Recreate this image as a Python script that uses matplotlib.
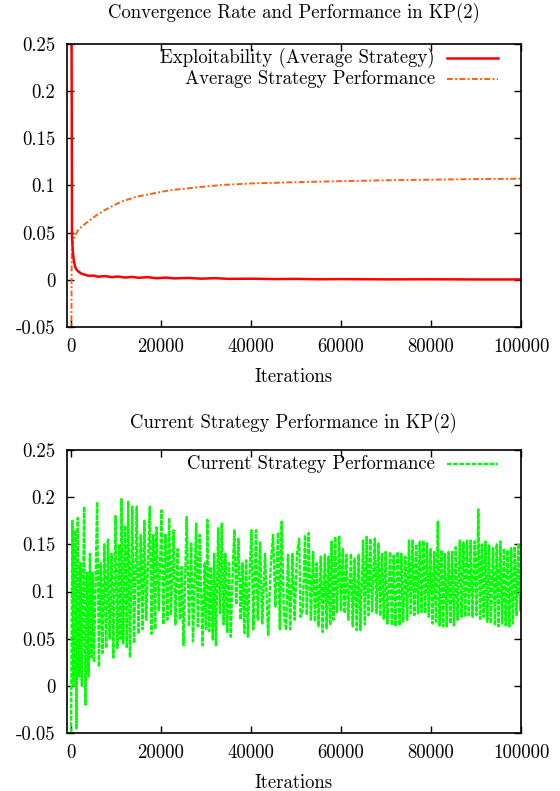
import numpy as np
import matplotlib
matplotlib.use('Agg')
import matplotlib.pyplot as plt

# ---------------------------------------------------------------------------
# estilo (gnuplot + LaTeX)
# ---------------------------------------------------------------------------
plt.rcParams['font.family'] = 'cmr10'
plt.rcParams['axes.formatter.use_mathtext'] = True
plt.rcParams['axes.unicode_minus'] = False
FS = 13.5

RED = '#ff0000'
ORANGE = '#ff6010'
GREEN = '#00ff00'

# ---------------------------------------------------------------------------
# datos
# ---------------------------------------------------------------------------
title_top = 'Convergence Rate and Performance in KP(2)'
title_bottom = 'Current Strategy Performance in KP(2)'
xlabel = 'Iterations'
label_exploit = 'Exploitability (Average Strategy)'
label_avg = 'Average Strategy Performance'
label_cur = 'Current Strategy Performance'

xticks = [0, 20000, 40000, 60000, 80000, 100000]
xtick_labels = ['0', '20000', '40000', '60000', '80000', '100000']
yticks = [-0.05, 0, 0.05, 0.1, 0.15, 0.2, 0.25]
ytick_labels = ['-0.05', '0', '0.05', '0.1', '0.15', '0.2', '0.25']

exploit_iters = [1, 100, 220, 400, 600, 890, 1260, 1700, 2370, 3000, 3850,
                 5000, 6000, 7550, 9000, 10500, 12000, 13500, 14950, 17000,
                 19000, 21000, 23000, 26000, 29000, 32000, 35000, 40150,
                 45000, 50000, 55000, 60000, 70000, 80000, 90000, 100000]
exploit_vals = [0.60, 0.30, 0.045, 0.030, 0.021, 0.014, 0.0106, 0.0085,
                0.0064, 0.0055, 0.0043, 0.0045, 0.0033, 0.0040, 0.0028,
                0.0035, 0.0024, 0.0031, 0.0022, 0.0028, 0.0017, 0.0024,
                0.0015, 0.0020, 0.0012, 0.0018, 0.0010, 0.0012, 0.0008,
                0.0010, 0.0006, 0.0008, 0.0005, 0.0006, 0.0004, 0.0004]

avg_iters = [1, 60, 120, 220, 520, 1000, 1630, 2500, 3850, 5500, 7550,
             9500, 11260, 14500, 18700, 22000, 26100, 30000, 33500, 40150,
             50000, 60000, 70000, 80000, 90000, 100000]
avg_vals = [-0.40, -0.10, 0.010, 0.035, 0.043, 0.048, 0.053, 0.057, 0.062,
            0.068, 0.074, 0.079, 0.083, 0.088, 0.092, 0.095, 0.097, 0.099,
            0.1005, 0.1022, 0.1035, 0.1046, 0.1055, 0.1062, 0.1068, 0.1072]

cur_iters = [
    0, 300, 600, 900, 1200, 1500, 1800, 2100, 2400, 2900, 3200, 3600, 3900,
    4200, 4500, 4800, 5100, 5800, 6200, 6600, 7000, 7400, 7800, 8200, 8600,
    9000, 9400, 9900, 10300, 10700, 11000, 11200, 11600, 12000, 12400,
    12700, 13100, 13600, 14000, 14600, 15000, 15500, 15900, 16300, 16700,
    17500, 17900, 18300, 18700, 19000, 19500, 20100, 20500, 21000, 21400,
    21800, 22200, 22800, 23200, 23700, 24200,
    24600, 25000, 25700, 26200, 26700, 27100, 27800, 28200, 28600, 29200,
    29700, 30000, 30300, 30700, 31100, 31500, 31800, 32200, 32700, 33100,
    33500, 33900, 34300, 34700, 35100, 35500, 35900, 36300, 36700, 37200,
    37700, 38100, 38500, 38900, 39300, 39700, 40100, 40500, 41100, 41500,
    42000, 42500, 43100, 43800, 44400, 44900, 45400, 46000, 46400, 46800,
    47300, 47800, 48200, 48700, 49200, 49700, 50200, 50700, 51000,
    51500, 52000, 52400, 52800, 53300, 53800, 54200, 54600, 55000, 55500,
    55900, 56400, 56800, 57200, 57600, 57900, 58300, 58700, 59100, 59600,
    60000, 60400, 60800, 61200, 61600, 62200, 62600, 63000, 63500, 63900,
    64300, 64900, 65300, 65700, 66100, 66500, 66900, 67500, 67900, 68300,
    68700, 69100, 69500, 69900, 70300, 70900, 71300, 71700, 72100, 72600,
    73000, 73400, 73800, 74300, 74700,
    75100, 75500, 75900, 76300, 76700, 77100, 77500, 77900, 78300, 78700,
    79100, 79500, 79900, 80300, 80700, 81100, 81500, 81900, 82300, 82700,
    83100, 83500, 83900, 84300, 84700, 85100, 85500, 85900, 86400, 86800,
    87200, 87600, 88000, 88400, 88800, 89200, 89700, 90100, 90500, 90900,
    91300, 91700, 92100, 92500, 92900, 93300, 93800, 94200, 94600, 95000,
    95400, 95800, 96200, 96600, 97000, 97400, 97800, 98200, 98600, 99000,
    99400, 99800, 100000]
cur_vals = [
    -0.050, 0.175, 0.000, 0.165, -0.045, 0.178, 0.010, 0.130, 0.000, 0.190,
    -0.020, 0.120, 0.010, 0.140, 0.030, 0.120, 0.025, 0.195, 0.020, 0.130,
    0.035, 0.150, 0.040, 0.155, 0.050, 0.140, 0.030, 0.180, 0.040, 0.150,
    0.050, 0.198, 0.045, 0.170, 0.040, 0.195, 0.030, 0.190, 0.045, 0.190,
    0.055, 0.160, 0.060, 0.175, 0.070, 0.190, 0.055, 0.160, 0.060, 0.168,
    0.080, 0.186, 0.065, 0.160, 0.070, 0.178, 0.075, 0.165, 0.065, 0.145,
    0.070,
    0.126, 0.043, 0.179, 0.063, 0.151, 0.047, 0.172, 0.063, 0.160, 0.043,
    0.130, 0.060, 0.176, 0.058, 0.126, 0.049, 0.140, 0.043, 0.167, 0.077,
    0.172, 0.065, 0.140, 0.056, 0.130, 0.052, 0.120, 0.165, 0.086, 0.156,
    0.070, 0.130, 0.056, 0.133, 0.052, 0.120, 0.165, 0.060, 0.165, 0.070,
    0.153, 0.066, 0.140, 0.054, 0.130, 0.160, 0.084, 0.163, 0.060, 0.174,
    0.075, 0.059, 0.139, 0.060, 0.140, 0.070, 0.140, 0.156, 0.073,
    0.080, 0.160, 0.075, 0.162, 0.070, 0.142, 0.068, 0.130, 0.063, 0.137,
    0.057, 0.139, 0.061, 0.137, 0.064, 0.153, 0.070, 0.158, 0.078, 0.158,
    0.080, 0.145, 0.077, 0.139, 0.070, 0.140, 0.063, 0.135, 0.059, 0.139,
    0.059, 0.154, 0.065, 0.158, 0.075, 0.156, 0.079, 0.156, 0.077, 0.151,
    0.074, 0.140, 0.071, 0.142, 0.066, 0.142, 0.064, 0.138, 0.063, 0.142,
    0.064, 0.140, 0.068, 0.137, 0.070,
    0.154, 0.077, 0.154, 0.075, 0.150, 0.077, 0.153, 0.078, 0.154, 0.077,
    0.151, 0.073, 0.145, 0.066, 0.142, 0.068, 0.174, 0.064, 0.144, 0.063,
    0.140, 0.063, 0.142, 0.066, 0.142, 0.064, 0.147, 0.070, 0.154, 0.073,
    0.152, 0.073, 0.154, 0.075, 0.154, 0.073, 0.153, 0.075, 0.187, 0.071,
    0.150, 0.073, 0.153, 0.068, 0.149, 0.066, 0.146, 0.064, 0.150, 0.063,
    0.153, 0.066, 0.146, 0.064, 0.144, 0.063, 0.146, 0.066, 0.148, 0.075,
    0.151, 0.080, 0.130]

# ---------------------------------------------------------------------------
# figura
# ---------------------------------------------------------------------------
fig = plt.figure(figsize=(5.6, 7.91), dpi=100)
ax1 = fig.add_axes([0.1188, 0.5866, 0.8116, 0.3578])
ax2 = fig.add_axes([0.1188, 0.0733, 0.8116, 0.3578])


def estilo(ax, title, title_pad):
    ax.set_xlim(-1000, 100000)
    ax.set_ylim(-0.05, 0.25)
    ax.set_xticks(xticks)
    ax.set_xticklabels(xtick_labels, fontsize=FS)
    ax.set_yticks(yticks)
    ax.set_yticklabels(ytick_labels, fontsize=FS)
    ax.tick_params(direction='in', length=5, width=1, top=True, right=True,
                   pad=8)
    for sp in ax.spines.values():
        sp.set_linewidth(1.2)
    ax.set_xlabel(xlabel, fontsize=FS, labelpad=9)
    ax.set_title(title, fontsize=FS, pad=title_pad)


def clave(ax, row, text, **line_kw):
    # leyenda estilo gnuplot: texto alineado a la derecha + muestra de línea
    y = 0.952 - row * 0.074
    ax.text(0.811, y, text, transform=ax.transAxes, ha='right', va='center',
            fontsize=FS)
    ax.plot([0.838, 0.950], [y, y], transform=ax.transAxes, clip_on=False,
            **line_kw)


# --- arriba ---
red_kw = dict(color=RED, lw=1.8)
orange_kw = dict(color=ORANGE, lw=1.4, dashes=(3, 1.2, 1, 1.2))
ax1.plot(avg_iters, avg_vals, **orange_kw)
ax1.plot(exploit_iters, exploit_vals, **red_kw)
estilo(ax1, title_top, 19)
clave(ax1, 0, label_exploit, **red_kw)
clave(ax1, 1, label_avg, **orange_kw)

# --- abajo ---
green_kw = dict(color=GREEN, lw=1.7, dashes=(2, 0.6))
ax2.plot(cur_iters, cur_vals, **green_kw)
estilo(ax2, title_bottom, 16)
clave(ax2, 0, label_cur, **green_kw)

plt.savefig('out.png', dpi=100)
